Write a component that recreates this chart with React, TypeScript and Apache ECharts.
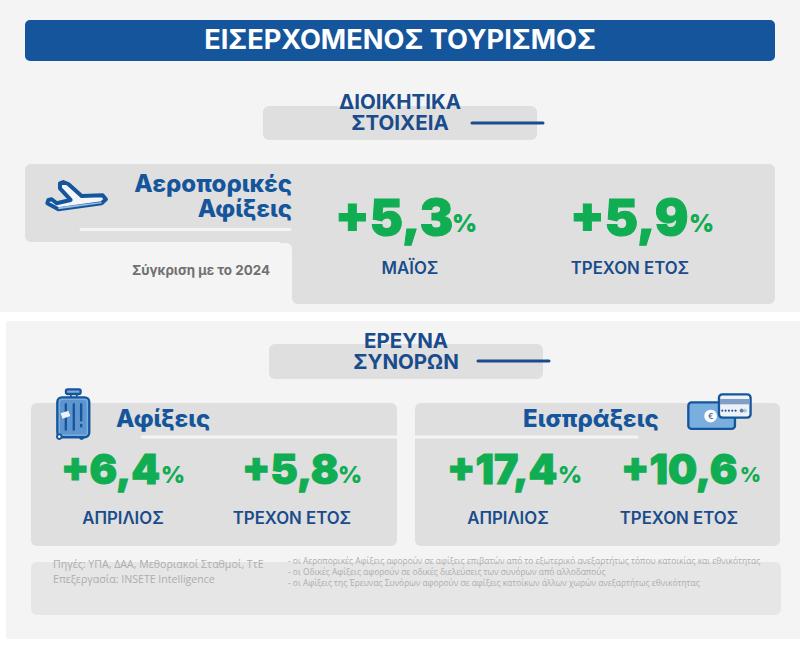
import React, { useEffect, useRef } from "react";
import * as echarts from "echarts";

const pageTitle = "ΕΙΣΕΡΧΟΜΕΝΟΣ ΤΟΥΡΙΣΜΟΣ";
const adminHeading = ["ΔΙΟΙΚΗΤΙΚΑ", "ΣΤΟΙΧΕΙΑ"];
const surveyHeading = ["ΕΡΕΥΝΑ", "ΣΥΝΟΡΩΝ"];
const airTitle = ["Αεροπορικές", "Αφίξεις"];
const airPeriods = ["ΜΑΪΟΣ", "ΤΡΕΧΟΝ ΕΤΟΣ"];
const airValues = [5.3, 5.9];
const arrivalsTitle = "Αφίξεις";
const receiptsTitle = "Εισπράξεις";
const surveyPeriods = ["ΑΠΡΙΛΙΟΣ", "ΤΡΕΧΟΝ ΕΤΟΣ"];
const arrivalsValues = [6.4, 5.8];
const receiptsValues = [17.4, 10.6];
const comparison = "Σύγκριση με το 2024";
const sources = ["Πηγές: ΥΠΑ, ΔΑΑ, Μεθοριακοί Σταθμοί, ΤτΕ", "Επεξεργασία: INSETE Intelligence"];
const notes = [
  "- οι Αεροπορικές Αφίξεις αφορούν σε αφίξεις επιβατών από το εξωτερικό ανεξαρτήτως τόπου κατοικίας και εθνικότητας",
  "- οι Οδικές Αφίξεις αφορούν σε οδικές διελεύσεις των συνόρων από αλλοδαπούς",
  "- οι Αφίξεις της Έρευνας Συνόρων αφορούν σε αφίξεις κατοίκων άλλων χωρών ανεξαρτήτως εθνικότητας",
];

const BG = "#f4f4f4";
const GRAY = "#dfdfdf";
const BLUE = "#15559b";
const NAVY = "#1a4c8c";
const GREEN = "#10ad52";
const FOOT = "#adadad";
const FONT = "Inter";

const rect = (x: number, y: number, w: number, h: number, fill: string, r: any = 0) => ({
  type: "rect",
  shape: { x, y, width: w, height: h, r },
  style: { fill },
});
const hline = (x1: number, x2: number, y: number, stroke: string, lineWidth: number) => ({
  type: "line",
  shape: { x1, y1: y, x2, y2: y },
  style: { stroke, lineWidth, lineCap: "round" },
});
const text = (
  x: number,
  y: number,
  t: string,
  fontSize: number,
  fontWeight: any,
  fill: string,
  textAlign = "center",
  fontFamily = FONT,
  lineHeight?: number
) => ({
  type: "text",
  x,
  y,
  style: { text: t, fontSize, fontWeight, fill, textAlign, textVerticalAlign: "middle", fontFamily, lineHeight },
});
const pct = (v: number) => "+" + v.toFixed(1).replace(".", ",");
const heavy = (x: number, y: number, t: string, fontSize: number, border: number) => ({
  type: "text",
  x,
  y,
  style: {
    text: t,
    fontSize,
    fontWeight: 900,
    fontFamily: FONT,
    fill: GREEN,
    stroke: GREEN,
    lineWidth: border,
    textAlign: "left",
    textVerticalAlign: "middle",
  },
});
const metric = (x: number, xp: number, y: number, v: number, big: number, small: number) => [
  heavy(x, y, pct(v), big, 1),
  heavy(xp, y + 6, "%", small, 0),
];

const zoomed = (x: number, y: number, children: any[]) => ({
  type: "group",
  x,
  y,
  scaleX: 1 / 3,
  scaleY: 1 / 3,
  children,
});

const planeIcon = zoomed(30, 170, [
  {
    type: "polygon",
    shape: {
      points: [
        [90, 40], [100, 36], [115, 42], [155, 78], [218, 76], [228, 88], [215, 100], [85, 118],
        [52, 100], [55, 90], [65, 88], [80, 100], [122, 90], [90, 55],
      ],
    },
    style: { fill: "#f3f7fb", stroke: BLUE, lineWidth: 12, lineJoin: "round" },
  },
  {
    type: "polygon",
    shape: { points: [[85, 112], [215, 96], [215, 100], [85, 118]] },
    style: { fill: "#9cc0e4" },
  },
]);

const suitcaseIcon = zoomed(40, 380, [
  { type: "rect", shape: { x: 78, y: 28, width: 44, height: 14, r: 5 }, style: { fill: "#7aaede", stroke: BLUE, lineWidth: 7 } },
  { type: "rect", shape: { x: 90, y: 42, width: 5, height: 12 }, style: { fill: BLUE } },
  { type: "rect", shape: { x: 108, y: 42, width: 5, height: 12 }, style: { fill: BLUE } },
  { type: "circle", shape: { cx: 125, cy: 172, r: 8 }, style: { fill: BLUE } },
  { type: "rect", shape: { x: 52, y: 52, width: 96, height: 120, r: 14 }, style: { fill: "#7aaede", stroke: BLUE, lineWidth: 7 } },
  { type: "rect", shape: { x: 60, y: 60, width: 80, height: 104, r: 8 }, style: { fill: "#5e95cf" } },
  { type: "rect", shape: { x: 74, y: 70, width: 7, height: 82 }, style: { fill: BLUE } },
  { type: "rect", shape: { x: 98, y: 70, width: 7, height: 82 }, style: { fill: BLUE } },
  { type: "rect", shape: { x: 120, y: 70, width: 7, height: 54 }, style: { fill: BLUE } },
  { type: "rect", shape: { x: 120, y: 132, width: 7, height: 10 }, style: { fill: BLUE } },
  { type: "polygon", shape: { points: [[62, 100], [85, 92], [91, 108], [68, 116]] }, style: { fill: "#eef3f9" } },
  { type: "circle", shape: { cx: 58, cy: 170, r: 7 }, style: { fill: "#ffffff", stroke: BLUE, lineWidth: 6 } },
]);

const dots = [127, 137, 147, 157, 167].map((cx) => ({
  type: "circle",
  shape: { cx, cy: 77, r: 3.2 },
  style: { fill: BLUE },
}));
const moneyIcon = zoomed(680, 385, [
  { type: "rect", shape: { x: 25, y: 52, width: 140, height: 80, r: 10 }, style: { fill: "#7aaede", stroke: BLUE, lineWidth: 7 } },
  { type: "circle", shape: { cx: 92, cy: 93, r: 19 }, style: { fill: "#ffffff" } },
  text(92, 94, "€", 24, 600, "#3f6d9f"),
  { type: "rect", shape: { x: 117, y: 28, width: 95, height: 70, r: 10 }, style: { fill: "#eef2f7", stroke: BLUE, lineWidth: 7 } },
  { type: "rect", shape: { x: 120, y: 42, width: 89, height: 16 }, style: { fill: "#7f9fc6" } },
  ...dots,
  { type: "circle", shape: { cx: 195, cy: 77, r: 6 }, style: { fill: "#a9c6e4" } },
  { type: "circle", shape: { cx: 185, cy: 77, r: 6 }, style: { fill: "#5c7fa8" } },
]);

const elements: any[] = [
  // panels
  rect(0, 0, 800, 312, BG),
  rect(6, 321, 794, 318, BG),
  // title
  rect(25, 20, 750, 41, BLUE, 5),
  text(400, 39.5, pageTitle, 27.2, 700, "#ffffff"),
  // admin heading
  rect(263, 106, 274, 34, GRAY, 6),
  text(400, 112, adminHeading.join("\n"), 20.5, 700, NAVY, "center", FONT, 20.5),
  hline(472, 543, 123, NAVY, 3),
  // air card
  rect(25, 164, 750, 78, GRAY, 6),
  rect(292, 200, 483, 104, GRAY, 6),
  rect(280, 236, 20, 14, GRAY),
  rect(270, 243, 22, 20, BG, [0, 6, 0, 0]),
  hline(81, 290, 229.5, "#f4f4f4", 3),
  planeIcon,
  text(292, 195.5, airTitle.join("\n"), 24, 800, BLUE, "right", FONT, 25),
  text(270, 270, comparison, 13.4, 700, "#707070", "right"),
  ...metric(335, 452, 217, airValues[0], 50, 24),
  ...metric(570, 689, 217, airValues[1], 50, 24),
  text(410, 268, airPeriods[0], 16.8, 600, NAVY),
  text(630, 268, airPeriods[1], 16.8, 600, NAVY),
  // survey heading
  rect(269, 344, 274, 35, GRAY, 6),
  text(406, 350.5, surveyHeading.join("\n"), 20.5, 700, NAVY, "center", FONT, 21),
  hline(478, 549, 361, NAVY, 3),
  // survey cards
  rect(31, 403, 366, 143, GRAY, 6),
  rect(415, 403, 365, 143, GRAY, 6),
  hline(142, 397, 437, "#f4f4f4", 3),
  hline(415, 637, 437, "#f4f4f4", 3),
  text(116, 418, arrivalsTitle, 24, 800, BLUE, "left"),
  text(523, 418, receiptsTitle, 24, 800, BLUE, "left"),
  suitcaseIcon,
  moneyIcon,
  ...metric(61, 161, 469, arrivalsValues[0], 41, 23),
  ...metric(242, 338, 469, arrivalsValues[1], 41, 23),
  ...metric(447, 558, 469, receiptsValues[0], 41, 23),
  ...metric(621, 740, 469, receiptsValues[1], 41, 20),
  text(123, 518, surveyPeriods[0], 16.8, 600, NAVY),
  text(292, 518, surveyPeriods[1], 16.8, 600, NAVY),
  text(508, 518, surveyPeriods[0], 16.8, 600, NAVY),
  text(679, 518, surveyPeriods[1], 16.8, 600, NAVY),
  // footer
  rect(31, 562, 750, 53, "#e6e6e6", 6),
  text(53, 564, sources[0], 10.6, 400, FOOT, "left", "Open Sans"),
  text(53, 579, sources[1], 10.6, 400, FOOT, "left", "Open Sans"),
  text(288, 560, notes[0], 8.4, 400, FOOT, "left", "Open Sans"),
  text(288, 571.5, notes[1], 8.4, 400, FOOT, "left", "Open Sans"),
  text(288, 582.5, notes[2], 8.4, 400, FOOT, "left", "Open Sans"),
];

export default function App() {
  const ref = useRef<HTMLDivElement>(null);
  useEffect(() => {
    document.body.style.margin = "0";
    const chart = echarts.init(ref.current!, undefined, { renderer: "svg" });
    chart.setOption({
      animation: false,
      backgroundColor: "#ffffff",
      graphic: { elements },
    });
    return () => chart.dispose();
  }, []);
  return <div ref={ref} style={{ width: 800, height: 655 }} />;
}
